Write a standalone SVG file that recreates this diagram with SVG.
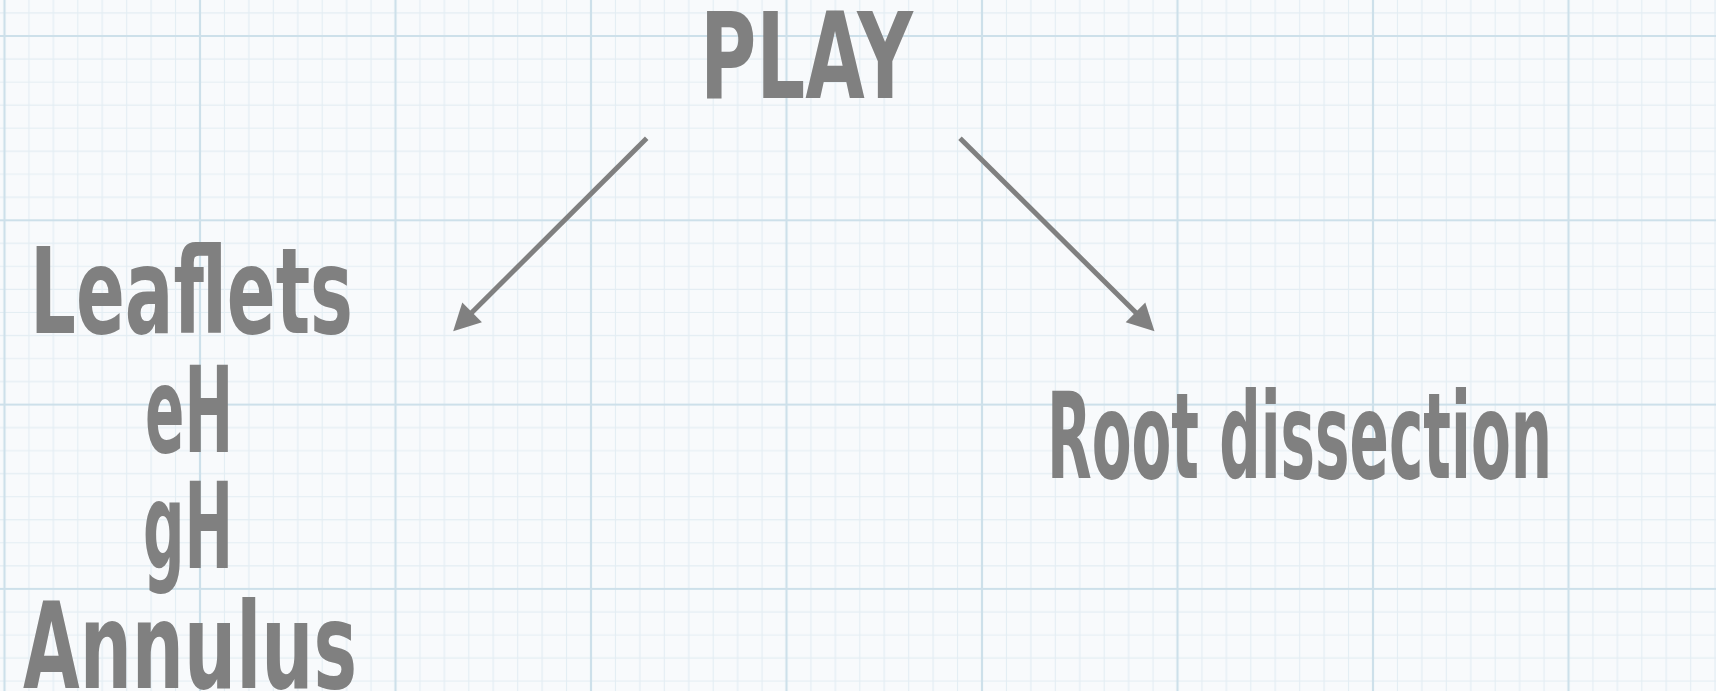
<svg xmlns="http://www.w3.org/2000/svg" width="1716" height="691" viewBox="0 0 1716 691">
  <defs>
    <pattern id="grid" patternUnits="userSpaceOnUse" x="4.5" y="-148.3" width="195.5" height="184.3">
      <g class="minor">
        <line x1="24.44" y1="0" x2="24.44" y2="184.3"/>
        <line x1="48.88" y1="0" x2="48.88" y2="184.3"/>
        <line x1="73.31" y1="0" x2="73.31" y2="184.3"/>
        <line x1="97.75" y1="0" x2="97.75" y2="184.3"/>
        <line x1="122.19" y1="0" x2="122.19" y2="184.3"/>
        <line x1="146.63" y1="0" x2="146.63" y2="184.3"/>
        <line x1="171.06" y1="0" x2="171.06" y2="184.3"/>
        <line x1="0" y1="23.04" x2="195.5" y2="23.04"/>
        <line x1="0" y1="46.08" x2="195.5" y2="46.08"/>
        <line x1="0" y1="69.11" x2="195.5" y2="69.11"/>
        <line x1="0" y1="92.15" x2="195.5" y2="92.15"/>
        <line x1="0" y1="115.19" x2="195.5" y2="115.19"/>
        <line x1="0" y1="138.23" x2="195.5" y2="138.23"/>
        <line x1="0" y1="161.26" x2="195.5" y2="161.26"/>
      </g>
      <g class="major">
        <line x1="0" y1="0" x2="0" y2="184.3"/>
        <line x1="195.5" y1="0" x2="195.5" y2="184.3"/>
        <line x1="0" y1="0" x2="195.5" y2="0"/>
        <line x1="0" y1="184.3" x2="195.5" y2="184.3"/>
      </g>
    </pattern>
    <marker id="head" markerUnits="userSpaceOnUse" markerWidth="30" markerHeight="30" viewBox="0 -14 26 28" refX="2" refY="0" orient="auto">
      <path d="M0,-13 L25,0 L0,13 z" fill="#808080"/>
    </marker>
  </defs>
  <style>
    .minor line { stroke: #e3edf3; stroke-width: 1.2; }
    .major line { stroke: #cde0ea; stroke-width: 2.2; }
    .label { font-family: "DejaVu Sans", "Liberation Sans", sans-serif; font-weight: bold; font-size: 120px; fill: #808080; }
    .conn line { stroke: #808080; stroke-width: 5; marker-end: url(#head); }
  </style>
  <rect width="1716" height="691" fill="#f8fafc"/>
  <rect width="1716" height="691" fill="url(#grid)"/>

  <g id="node-play">
    <text class="label" x="700" y="98" textLength="213" lengthAdjust="spacingAndGlyphs">PLAY</text>
  </g>
  <g id="node-left">
    <text class="label" x="30" y="333" textLength="323" lengthAdjust="spacingAndGlyphs">Leaflets</text>
    <text class="label" x="145" y="452" textLength="88" lengthAdjust="spacingAndGlyphs">eH</text>
    <text class="label" x="143" y="568" textLength="90" lengthAdjust="spacingAndGlyphs">gH</text>
    <text class="label" x="23" y="688" textLength="334" lengthAdjust="spacingAndGlyphs">Annulus</text>
  </g>
  <g id="node-root">
    <text class="label" x="1047" y="478" textLength="505" lengthAdjust="spacingAndGlyphs">Root dissection</text>
  </g>

  <g id="connectors" class="conn">
    <line x1="646.7" y1="138.3" x2="470.6" y2="313.8"/>
    <line x1="960" y1="138.3" x2="1137" y2="313.8"/>
  </g>
</svg>
